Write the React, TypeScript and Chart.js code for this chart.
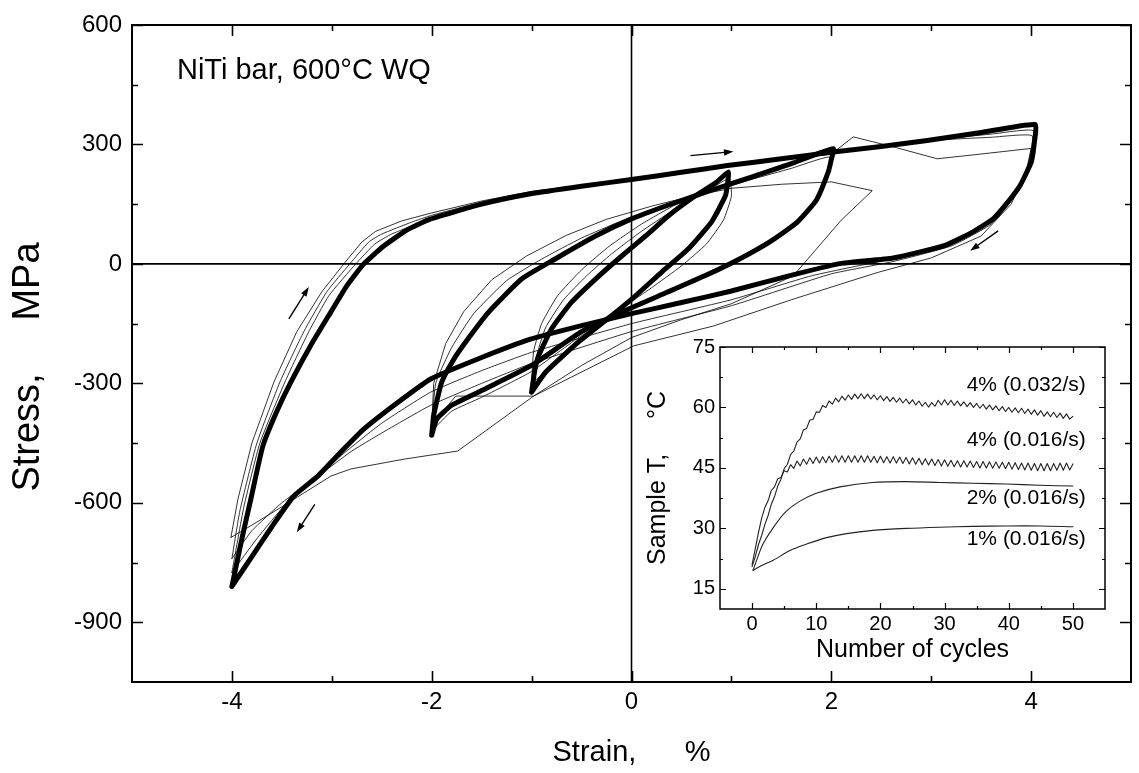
import React, { useEffect, useRef } from 'react';
import { Chart, registerables } from 'chart.js';

Chart.register(...registerables);

type P = [number, number];
const FONT = '"Liberation Sans", Arial, Helvetica, sans-serif';

// ---------- main chart axes ----------
const strainTicks = [-4, -2, 0, 2, 4];
const strainMinorTicks = [-3, -1, 1, 3];
const stressTicks = [-900, -600, -300, 0, 300, 600];
const stressMinorTicks = [-750, -450, -150, 150, 450];
const xTitle = 'Strain,      %';
const yTitle = 'Stress,     MPa';
const noteText = 'NiTi bar, 600°C WQ';
const notePos: P = [-4.55, 485];

// arrows: [fromStrain, fromStress, toStrain, toStress]
const arrows: [number, number, number, number][] = [
  [0.59, 272, 1.02, 282],
  [3.67, 83, 3.39, 33],
  [-3.43, -138, -3.23, -58],
  [-3.17, -604, -3.35, -674],
];

// ---------- +-4 % loops ----------
const loop4Stable: P[] = [
  [-4.0, -810], [-3.9, -690], [-3.81, -590], [-3.69, -457], [-3.55, -370], [-3.41, -297], [-3.2, -200],
  [-3.01, -121], [-2.85, -55], [-2.68, 0], [-2.48, 45], [-2.25, 85], [-2.01, 113], [-1.5, 150], [-1.01, 176],
  [-0.5, 195], [0.0, 212], [0.5, 230], [0.96, 247], [1.5, 264], [2.02, 281], [2.5, 295], [2.96, 310],
  [3.5, 330], [4.04, 350],
  [4.03, 300], [4.0, 255], [3.89, 197], [3.75, 150], [3.62, 113], [3.4, 78], [3.12, 45], [2.62, 15],
  [2.07, 0], [1.5, -35], [1.0, -68], [0.5, -97], [0.0, -125], [-0.5, -155], [-1.01, -189], [-1.5, -235],
  [-2.01, -289], [-2.35, -350], [-2.68, -415], [-2.9, -470], [-3.14, -533], [-3.38, -583], [-3.6, -660],
  [-3.8, -735], [-4.0, -810],
];
const loop4Cycle1: P[] = [
  [-4.01, -687], [-3.94, -591], [-3.8, -450], [-3.58, -297], [-3.35, -170], [-3.1, -70], [-2.88, 0],
  [-2.7, 55], [-2.56, 82], [-2.3, 108], [-2.0, 128], [-1.5, 158], [-1.0, 182], [0.0, 214], [1.0, 245],
  [2.0, 276], [2.22, 319], [2.65, 292], [3.06, 264], [3.5, 276], [4.0, 290],
  [3.95, 230], [3.8, 150], [3.5, 70], [3.0, 15], [2.47, -21], [1.6, -90], [0.82, -156], [0.02, -206],
  [-0.98, -332], [-1.74, -470], [-2.27, -490], [-2.81, -515], [-3.01, -533], [-3.5, -610], [-3.84, -662],
  [-4.01, -687],
];
const loop4Cycle2: P[] = [
  [-4.0, -740], [-3.92, -620], [-3.75, -450], [-3.52, -297], [-3.28, -170], [-3.05, -70], [-2.82, 0],
  [-2.63, 55], [-2.5, 75], [-2.2, 105], [-2.0, 122], [-1.5, 155], [-1.0, 180], [0.0, 213], [1.0, 246],
  [2.0, 279], [3.0, 310], [3.6, 318], [4.01, 322],
  [3.97, 250], [3.85, 175], [3.6, 100], [3.2, 45], [2.6, 5], [2.0, -25], [1.0, -105], [0.0, -170],
  [-1.0, -250], [-1.5, -300], [-2.01, -355], [-2.4, -410], [-2.8, -470], [-3.2, -545], [-3.5, -600],
  [-3.8, -670], [-4.0, -740],
];
const loop4Cycle3: P[] = [
  [-4.0, -775], [-3.88, -610], [-3.72, -450], [-3.47, -297], [-3.24, -175], [-3.03, -80], [-2.76, 0],
  [-2.57, 50], [-2.4, 75], [-2.1, 105], [-1.5, 152], [-1.0, 178], [0.0, 212], [1.0, 246], [2.0, 280],
  [3.0, 311], [3.6, 326], [4.02, 335],
  [4.0, 270], [3.88, 185], [3.6, 105], [3.15, 42], [2.4, 2], [1.8, -30], [1.0, -90], [0.0, -150],
  [-1.0, -222], [-1.5, -268], [-2.01, -322], [-2.5, -400], [-2.9, -480], [-3.2, -548], [-3.45, -600],
  [-3.75, -690], [-4.0, -775],
];

// ---------- +-2 % loops ----------
const loop2Stable: P[] = [
  [-2.0, -430], [-1.98, -380], [-1.9, -297], [-1.78, -240], [-1.66, -196], [-1.43, -121], [-1.1, -38],
  [-0.76, 13], [-0.36, 70], [0.0, 113], [0.37, 148], [0.8, 185], [1.2, 218], [1.6, 252], [2.02, 289],
  [2.0, 262], [1.97, 231], [1.85, 160], [1.66, 105], [1.4, 58], [1.1, 15], [0.75, -28], [0.35, -72],
  [0.0, -110], [-0.5, -170], [-1.0, -255], [-1.5, -318], [-1.8, -355], [-1.95, -390], [-2.0, -430],
];
const loop2Cycle1: P[] = [
  [-2.0, -405], [-1.98, -300], [-1.86, -200], [-1.68, -120], [-1.4, -40], [-1.05, 20], [-0.65, 72],
  [-0.25, 112], [0.2, 145], [0.6, 170], [1.0, 190], [1.5, 200], [2.0, 206], [2.41, 184],
  [2.1, 110], [1.62, -30], [1.0, -100], [0.5, -140], [0.0, -185], [-0.5, -255], [-0.98, -332],
  [-1.76, -332], [-2.0, -405],
];
const loop2Cycle2: P[] = [
  [-2.0, -420], [-1.96, -300], [-1.8, -210], [-1.58, -125], [-1.25, -42], [-0.9, 12], [-0.5, 65],
  [-0.1, 108], [0.3, 143], [0.8, 182], [1.2, 212], [1.6, 240], [1.98, 268],
  [1.95, 210], [1.78, 135], [1.55, 80], [1.2, 28], [0.75, -30], [0.0, -115], [-0.5, -180], [-1.0, -270],
  [-1.5, -335], [-1.8, -370], [-2.0, -420],
];

// ---------- +-1 % loops ----------
const loop1Stable: P[] = [
  [-1.0, -322], [-0.97, -270], [-0.93, -231], [-0.8, -163], [-0.6, -96], [-0.36, -38], [-0.13, 13],
  [0.14, 70], [0.37, 121], [0.64, 171], [0.85, 205], [0.97, 231],
  [0.96, 200], [0.94, 171], [0.8, 105], [0.57, 38], [0.3, -21], [0.04, -80], [-0.2, -130],
  [-0.53, -196], [-0.86, -272], [-1.0, -322],
];
const loop1Cycle1: P[] = [
  [-1.0, -300], [-0.98, -220], [-0.9, -150], [-0.74, -80], [-0.5, -15], [-0.22, 45], [0.1, 100],
  [0.45, 150], [0.8, 190], [0.98, 215],
  [1.0, 170], [0.92, 110], [0.75, 50], [0.5, -5], [0.2, -60], [-0.2, -130], [-0.6, -215], [-1.0, -300],
];
const loop1Cycle2: P[] = [
  [-1.0, -312], [-0.96, -240], [-0.86, -160], [-0.68, -90], [-0.45, -30], [-0.2, 25], [0.1, 82],
  [0.4, 132], [0.7, 180], [0.97, 222],
  [0.97, 185], [0.86, 120], [0.62, 45], [0.35, -15], [0.05, -78], [-0.25, -135], [-0.6, -205],
  [-0.9, -280], [-1.0, -312],
];

// ---------- inset ----------
const cycleTicks = [0, 10, 20, 30, 40, 50];
const cycleMinorTicks = [5, 15, 25, 35, 45];
const tempTicks = [15, 30, 45, 60, 75];
const tempMinorTicks = [22.5, 37.5, 52.5, 67.5];
const insetXTitle = 'Number of cycles';
const insetYTitle = 'Sample T,     °C';
const insetLabels = ['4% (0.032/s)', '4% (0.016/s)', '2% (0.016/s)', '1% (0.016/s)'];
const insetLabelY = [65.4, 52.0, 37.5, 27.2];
const insetLabelX = 52.0;

// temperatures at every half cycle (0, 0.5, 1, ... 50)
const temp4Fast = [
  20.5, 23.0, 26.0, 28.3, 31.0, 33.2, 36.0, 37.9, 40.5, 42.2, 44.8, 45.9, 48.3, 49.2, 51.4, 52.2, 54.4,
  54.8, 56.9, 57.0, 58.9, 58.8, 60.5, 60.0, 61.6, 60.8, 62.3, 61.4, 62.8, 61.8, 63.1, 62.0, 63.3, 62.2,
  63.4, 62.2, 63.3, 62.1, 63.1, 61.9, 62.9, 61.7, 62.7, 61.5, 62.5, 61.3, 62.3, 61.1, 62.1, 60.9, 61.9,
  60.6, 61.6, 60.3, 61.3, 60.1, 61.2, 60.3, 61.8, 60.6, 61.9, 60.6, 61.8, 60.5, 61.6, 60.4, 61.4, 60.2,
  61.2, 60.0, 61.0, 59.8, 60.8, 59.6, 60.6, 59.4, 60.4, 59.2, 60.2, 59.0, 60.0, 58.8, 59.9, 58.7, 59.8,
  58.5, 59.6, 58.3, 59.4, 58.1, 59.2, 57.8, 58.9, 57.7, 58.8, 57.5, 58.6, 57.3, 58.4, 57.1, 57.8,
];
const temp4Slow = [
  21.0, 25.0, 29.0, 32.6, 35.2, 36.9, 39.4, 40.3, 42.3, 42.6, 44.3, 44.0, 45.8, 44.9, 46.7, 45.5, 47.2,
  45.9, 47.5, 46.1, 47.7, 46.2, 47.8, 46.3, 47.9, 46.4, 48.0, 46.4, 48.0, 46.4, 48.0, 46.4, 48.0, 46.4,
  48.0, 46.4, 48.0, 46.4, 47.9, 46.3, 47.9, 46.3, 47.8, 46.2, 47.8, 46.2, 47.7, 46.1, 47.6, 46.0, 47.5,
  45.9, 47.4, 45.8, 47.3, 45.7, 47.2, 45.6, 47.1, 45.5, 47.0, 45.4, 46.9, 45.3, 46.8, 45.2, 46.8, 45.2,
  46.7, 45.1, 46.6, 45.0, 46.6, 45.0, 46.5, 44.9, 46.5, 44.9, 46.4, 44.8, 46.4, 44.7, 46.3, 44.6, 46.2,
  44.5, 46.2, 44.4, 46.1, 44.3, 46.1, 44.3, 46.1, 44.3, 46.1, 44.4, 46.2, 44.4, 46.2, 44.5, 46.0,
];
const temp2: P[] = [
  [0.15, 19.6], [0.8, 22.5], [1.7, 26.1], [3.3, 30.2], [5.3, 34.2], [7.4, 36.7], [10, 38.7], [13.7, 40.3],
  [18.8, 41.4], [24, 41.6], [29.2, 41.4], [34.4, 41.2], [39.6, 41.0], [44.8, 40.7], [50, 40.5],
];
const temp1: P[] = [
  [0.15, 19.6], [1.5, 20.8], [3.3, 22.1], [5.9, 24.5], [8.5, 26.1], [11.6, 27.7], [14.7, 28.7],
  [18.8, 29.5], [24, 30.0], [29.2, 30.3], [34.4, 30.5], [39.6, 30.6], [44.8, 30.6], [50, 30.4],
];

// ---------- helpers ----------
const toXY = (pts: P[]) => pts.map(([x, y]) => ({ x, y }));
const halfGrid = (vals: number[]) => vals.map((y, i) => ({ x: i / 2, y }));

const lineDs = (data: { x: number; y: number }[], width: number, color: string, tension = 0.15) => ({
  data,
  showLine: true,
  pointRadius: 0,
  pointHoverRadius: 0,
  borderWidth: width,
  borderColor: color,
  backgroundColor: color,
  fill: false,
  tension,
  borderJoinStyle: 'round' as const,
  borderCapStyle: 'round' as const,
});

type Spec = {
  xMajor: number[]; xMinor: number[]; yMajor: number[]; yMinor: number[];
  major: number; minor: number; tickWidth: number; frameWidth: number;
};

function drawFrame(chart: any, spec: Spec) {
  const { ctx, chartArea: a } = chart;
  const xs = chart.scales.x;
  const ys = chart.scales.y;
  ctx.save();
  ctx.strokeStyle = '#000';
  ctx.lineWidth = spec.tickWidth;
  ctx.beginPath();
  const xt = (vals: number[], len: number) =>
    vals.forEach((v) => {
      const px = Math.round(xs.getPixelForValue(v)) + 0.5;
      ctx.moveTo(px, a.bottom); ctx.lineTo(px, a.bottom - len);
      ctx.moveTo(px, a.top); ctx.lineTo(px, a.top + len);
    });
  const yt = (vals: number[], len: number) =>
    vals.forEach((v) => {
      const py = Math.round(ys.getPixelForValue(v)) + 0.5;
      ctx.moveTo(a.left, py); ctx.lineTo(a.left + len, py);
      ctx.moveTo(a.right, py); ctx.lineTo(a.right - len, py);
    });
  xt(spec.xMajor, spec.major);
  xt(spec.xMinor, spec.minor);
  yt(spec.yMajor, spec.major);
  yt(spec.yMinor, spec.minor);
  ctx.stroke();
  ctx.lineWidth = spec.frameWidth;
  ctx.strokeRect(a.left, a.top, a.right - a.left, a.bottom - a.top);
  ctx.restore();
}

function drawArrow(ctx: CanvasRenderingContext2D, x1: number, y1: number, x2: number, y2: number) {
  const head = 10;
  const ang = Math.atan2(y2 - y1, x2 - x1);
  ctx.beginPath();
  ctx.moveTo(x1, y1);
  ctx.lineTo(x2 - Math.cos(ang) * head * 0.6, y2 - Math.sin(ang) * head * 0.6);
  ctx.stroke();
  ctx.beginPath();
  ctx.moveTo(x2, y2);
  ctx.lineTo(x2 - head * Math.cos(ang - 0.33), y2 - head * Math.sin(ang - 0.33));
  ctx.lineTo(x2 - head * Math.cos(ang + 0.33), y2 - head * Math.sin(ang + 0.33));
  ctx.closePath();
  ctx.fill();
}

const mainSpec: Spec = {
  xMajor: strainTicks, xMinor: strainMinorTicks, yMajor: stressTicks, yMinor: stressMinorTicks,
  major: 11, minor: 6, tickWidth: 1.6, frameWidth: 2,
};
const insetSpec: Spec = {
  xMajor: cycleTicks, xMinor: cycleMinorTicks, yMajor: tempTicks, yMinor: tempMinorTicks,
  major: 6, minor: 3, tickWidth: 1.2, frameWidth: 1.5,
};

const mainPlugin = {
  id: 'mainDecor',
  beforeDatasetsDraw(chart: any) {
    const { ctx, chartArea: a } = chart;
    const x0 = chart.scales.x.getPixelForValue(0);
    const y0 = chart.scales.y.getPixelForValue(0);
    ctx.save();
    ctx.strokeStyle = '#000';
    ctx.lineWidth = 1.6;
    ctx.beginPath();
    ctx.moveTo(x0, a.top); ctx.lineTo(x0, a.bottom);
    ctx.moveTo(a.left, y0); ctx.lineTo(a.right, y0);
    ctx.stroke();
    ctx.restore();
  },
  afterDraw(chart: any) {
    const { ctx, chartArea: a } = chart;
    const xs = chart.scales.x;
    const ys = chart.scales.y;
    drawFrame(chart, mainSpec);
    ctx.save();
    ctx.fillStyle = '#000';
    ctx.strokeStyle = '#000';
    ctx.textBaseline = 'middle';
    ctx.textAlign = 'center';
    ctx.font = `29px ${FONT}`;
    ctx.fillText(xTitle, (a.left + a.right) / 2, 753);
    ctx.save();
    ctx.translate(29, 367);
    ctx.rotate(-Math.PI / 2);
    ctx.font = `38px ${FONT}`;
    ctx.fillText(yTitle, 0, 0);
    ctx.restore();
    ctx.textAlign = 'left';
    ctx.font = `29px ${FONT}`;
    ctx.fillText(noteText, xs.getPixelForValue(notePos[0]), ys.getPixelForValue(notePos[1]));
    ctx.lineWidth = 1.4;
    arrows.forEach(([ax, ay, bx, by]) =>
      drawArrow(ctx, xs.getPixelForValue(ax), ys.getPixelForValue(ay), xs.getPixelForValue(bx), ys.getPixelForValue(by)),
    );
    ctx.restore();
  },
};

const insetPlugin = {
  id: 'insetDecor',
  afterDraw(chart: any) {
    const { ctx, chartArea: a } = chart;
    const xs = chart.scales.x;
    const ys = chart.scales.y;
    drawFrame(chart, insetSpec);
    ctx.save();
    ctx.fillStyle = '#000';
    ctx.textBaseline = 'middle';
    ctx.textAlign = 'center';
    ctx.font = `25px ${FONT}`;
    ctx.fillText(insetXTitle, (a.left + a.right) / 2, 320);
    ctx.save();
    ctx.translate(28, (a.top + a.bottom) / 2);
    ctx.rotate(-Math.PI / 2);
    ctx.fillText(insetYTitle, 0, 0);
    ctx.restore();
    ctx.textAlign = 'right';
    ctx.font = `21px ${FONT}`;
    insetLabels.forEach((t, i) => ctx.fillText(t, xs.getPixelForValue(insetLabelX), ys.getPixelForValue(insetLabelY[i])));
    ctx.restore();
  },
};

const tickFont = (size: number) => ({ family: FONT, size });

export default function App() {
  const mainRef = useRef<HTMLCanvasElement>(null);
  const insetRef = useRef<HTMLCanvasElement>(null);

  useEffect(() => {
    const thin = 'rgba(0,0,0,0.8)';
    const main = new Chart(mainRef.current as HTMLCanvasElement, {
      type: 'scatter',
      data: {
        datasets: [
          lineDs(toXY(loop4Stable), 5, '#000'),
          lineDs(toXY(loop2Stable), 5, '#000'),
          lineDs(toXY(loop1Stable), 5, '#000'),
          lineDs(toXY(loop4Cycle3), 1, thin),
          lineDs(toXY(loop4Cycle2), 1, thin),
          lineDs(toXY(loop4Cycle1), 1, thin, 0),
          lineDs(toXY(loop2Cycle2), 1, thin),
          lineDs(toXY(loop2Cycle1), 1, thin, 0),
          lineDs(toXY(loop1Cycle2), 1, thin),
          lineDs(toXY(loop1Cycle1), 1, thin),
        ] as any,
      },
      options: {
        animation: false,
        responsive: false,
        maintainAspectRatio: false,
        events: [],
        layout: { padding: { top: 25, right: 8, left: 0, bottom: 0 } },
        plugins: { legend: { display: false }, tooltip: { enabled: false } },
        scales: {
          x: {
            type: 'linear',
            min: -5,
            max: 5,
            afterFit: (s: any) => { s.height = 91; },
            afterBuildTicks: (s: any) => { s.ticks = strainTicks.map((v) => ({ value: v })); },
            grid: { display: false, drawTicks: false },
            border: { display: false },
            ticks: { font: tickFont(24), color: '#000', padding: 6, maxRotation: 0, autoSkip: false },
          },
          y: {
            type: 'linear',
            min: -1050,
            max: 600,
            afterFit: (s: any) => { s.width = 132; },
            afterBuildTicks: (s: any) => { s.ticks = stressTicks.map((v) => ({ value: v })); },
            grid: { display: false, drawTicks: false },
            border: { display: false },
            ticks: { font: tickFont(24), color: '#000', padding: 10, autoSkip: false },
          },
        },
      } as any,
      plugins: [mainPlugin],
    });

    const insetColor = '#222';
    const inset = new Chart(insetRef.current as HTMLCanvasElement, {
      type: 'scatter',
      data: {
        datasets: [
          lineDs(halfGrid(temp4Fast), 1.1, insetColor, 0),
          lineDs(halfGrid(temp4Slow), 1.1, insetColor, 0),
          lineDs(toXY(temp2), 1.1, insetColor, 0.3),
          lineDs(toXY(temp1), 1.1, insetColor, 0.3),
        ] as any,
      },
      options: {
        animation: false,
        responsive: false,
        maintainAspectRatio: false,
        events: [],
        layout: { padding: { top: 13, right: 5, left: 0, bottom: 0 } },
        plugins: { legend: { display: false }, tooltip: { enabled: false } },
        scales: {
          x: {
            type: 'linear',
            min: -5,
            max: 55,
            afterFit: (s: any) => { s.height = 66; },
            afterBuildTicks: (s: any) => { s.ticks = cycleTicks.map((v) => ({ value: v })); },
            grid: { display: false, drawTicks: false },
            border: { display: false },
            ticks: { font: tickFont(20), color: '#000', padding: 3, maxRotation: 0, autoSkip: false },
          },
          y: {
            type: 'linear',
            min: 10,
            max: 75,
            afterFit: (s: any) => { s.width = 90; },
            afterBuildTicks: (s: any) => { s.ticks = tempTicks.map((v) => ({ value: v })); },
            grid: { display: false, drawTicks: false },
            border: { display: false },
            ticks: { font: tickFont(20), color: '#000', padding: 5, autoSkip: false },
          },
        },
      } as any,
      plugins: [insetPlugin],
    });

    return () => {
      main.destroy();
      inset.destroy();
    };
  }, []);

  return (
    <div style={{ position: 'absolute', left: 0, top: 0, width: 1139, height: 773, background: '#fff' }}>
      <canvas
        ref={mainRef}
        width={1139}
        height={773}
        style={{ position: 'absolute', left: 0, top: 0, width: 1139, height: 773 }}
      />
      <canvas
        ref={insetRef}
        width={480}
        height={345}
        style={{ position: 'absolute', left: 630, top: 330, width: 480, height: 345 }}
      />
    </div>
  );
}
